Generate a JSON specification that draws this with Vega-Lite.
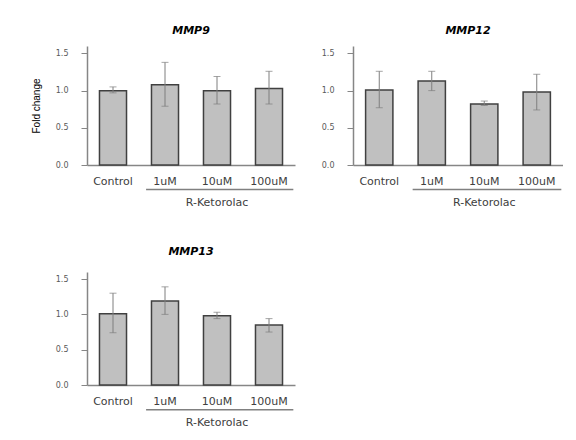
{
  "$schema": "https://vega.github.io/schema/vega-lite/v6.json",
  "padding": {"left": 31, "top": 25, "right": 0, "bottom": 0},
  "datasets": {
    "mmp9": [
      {"group": "Control", "value": 1.00, "lo": 0.97, "hi": 1.05},
      {"group": "1uM", "value": 1.08, "lo": 0.79, "hi": 1.38},
      {"group": "10uM", "value": 1.00, "lo": 0.82, "hi": 1.19},
      {"group": "100uM", "value": 1.03, "lo": 0.82, "hi": 1.26}
    ],
    "mmp12": [
      {"group": "Control", "value": 1.01, "lo": 0.77, "hi": 1.26},
      {"group": "1uM", "value": 1.13, "lo": 1.00, "hi": 1.26},
      {"group": "10uM", "value": 0.82, "lo": 0.80, "hi": 0.86},
      {"group": "100uM", "value": 0.98, "lo": 0.74, "hi": 1.22}
    ],
    "mmp13": [
      {"group": "Control", "value": 1.01, "lo": 0.74, "hi": 1.30},
      {"group": "1uM", "value": 1.19, "lo": 1.00, "hi": 1.39},
      {"group": "10uM", "value": 0.98, "lo": 0.94, "hi": 1.03},
      {"group": "100uM", "value": 0.85, "lo": 0.75, "hi": 0.94}
    ],
    "bracket": [
      {"label": "R-Ketorolac", "from": "1uM", "to": "100uM", "mid": "10uM"}
    ]
  },
  "columns": 2,
  "bounds": "flush",
  "spacing": {"column": 58, "row": 107},
  "concat": [
    {
      "width": 208, "height": 119,
      "title": "MMP9",
      "data": {"name": "mmp9"},
      "layer": [
        {
          "mark": {"type": "bar", "fill": "#c0c0c0", "stroke": "#404040", "strokeWidth": 1.5},
          "encoding": {
            "x": {"field": "group", "type": "nominal", "sort": null, "scale": {"domain": ["Control", "1uM", "10uM", "100uM"], "paddingInner": 0.48, "paddingOuter": 0.24}},
            "y": {"field": "value", "type": "quantitative", "scale": {"domain": [0, 1.5]}, "axis": {"title": "Fold change"}}
          }
        },
        {
          "mark": {"type": "rule", "color": "#7f7f7f", "strokeWidth": 1},
          "encoding": {
            "x": {"field": "group", "type": "nominal"},
            "y": {"field": "lo", "type": "quantitative", "title": "Fold change"},
            "y2": {"field": "hi"}
          }
        },
        {
          "mark": {"type": "tick", "color": "#7f7f7f", "size": 7, "thickness": 1},
          "encoding": {
            "x": {"field": "group", "type": "nominal"},
            "y": {"field": "lo", "type": "quantitative", "title": "Fold change"}
          }
        },
        {
          "mark": {"type": "tick", "color": "#7f7f7f", "size": 7, "thickness": 1},
          "encoding": {
            "x": {"field": "group", "type": "nominal"},
            "y": {"field": "hi", "type": "quantitative", "title": "Fold change"}
          }
        },
        {
          "data": {"name": "bracket"},
          "mark": {"type": "rule", "color": "#808080", "strokeWidth": 1.5},
          "encoding": {
            "x": {"field": "from", "type": "nominal", "bandPosition": -0.2},
            "x2": {"field": "to", "bandPosition": 1.4},
            "y": {"datum": -0.33, "type": "quantitative", "title": "Fold change"}
          }
        },
        {
          "data": {"name": "bracket"},
          "mark": {"type": "text", "fontSize": 11, "color": "#404040", "baseline": "alphabetic"},
          "encoding": {
            "x": {"field": "mid", "type": "nominal"},
            "y": {"datum": -0.55, "type": "quantitative", "title": "Fold change"},
            "text": {"field": "label"}
          }
        }
      ]
    },
    {
      "width": 210, "height": 119,
      "title": {"text": "MMP12", "dx": 10},
      "data": {"name": "mmp12"},
      "layer": [
        {
          "mark": {"type": "bar", "fill": "#c0c0c0", "stroke": "#404040", "strokeWidth": 1.5},
          "encoding": {
            "x": {"field": "group", "type": "nominal", "sort": null, "scale": {"domain": ["Control", "1uM", "10uM", "100uM"], "paddingInner": 0.48, "paddingOuter": 0.24}},
            "y": {"field": "value", "type": "quantitative", "scale": {"domain": [0, 1.5]}, "axis": {"title": null}}
          }
        },
        {
          "mark": {"type": "rule", "color": "#7f7f7f", "strokeWidth": 1},
          "encoding": {
            "x": {"field": "group", "type": "nominal"},
            "y": {"field": "lo", "type": "quantitative", "title": null},
            "y2": {"field": "hi"}
          }
        },
        {
          "mark": {"type": "tick", "color": "#7f7f7f", "size": 7, "thickness": 1},
          "encoding": {
            "x": {"field": "group", "type": "nominal"},
            "y": {"field": "lo", "type": "quantitative", "title": null}
          }
        },
        {
          "mark": {"type": "tick", "color": "#7f7f7f", "size": 7, "thickness": 1},
          "encoding": {
            "x": {"field": "group", "type": "nominal"},
            "y": {"field": "hi", "type": "quantitative", "title": null}
          }
        },
        {
          "data": {"name": "bracket"},
          "mark": {"type": "rule", "color": "#808080", "strokeWidth": 1.5},
          "encoding": {
            "x": {"field": "from", "type": "nominal", "bandPosition": -0.2},
            "x2": {"field": "to", "bandPosition": 1.4},
            "y": {"datum": -0.33, "type": "quantitative", "title": null}
          }
        },
        {
          "data": {"name": "bracket"},
          "mark": {"type": "text", "fontSize": 11, "color": "#404040", "baseline": "alphabetic"},
          "encoding": {
            "x": {"field": "mid", "type": "nominal"},
            "y": {"datum": -0.55, "type": "quantitative", "title": null},
            "text": {"field": "label"}
          }
        }
      ]
    },
    {
      "width": 208, "height": 113,
      "title": {"text": "MMP13", "offset": 15},
      "data": {"name": "mmp13"},
      "layer": [
        {
          "mark": {"type": "bar", "fill": "#c0c0c0", "stroke": "#404040", "strokeWidth": 1.5},
          "encoding": {
            "x": {"field": "group", "type": "nominal", "sort": null, "scale": {"domain": ["Control", "1uM", "10uM", "100uM"], "paddingInner": 0.48, "paddingOuter": 0.24}},
            "y": {"field": "value", "type": "quantitative", "scale": {"domain": [0, 1.5]}, "axis": {"title": null}}
          }
        },
        {
          "mark": {"type": "rule", "color": "#7f7f7f", "strokeWidth": 1},
          "encoding": {
            "x": {"field": "group", "type": "nominal"},
            "y": {"field": "lo", "type": "quantitative", "title": null},
            "y2": {"field": "hi"}
          }
        },
        {
          "mark": {"type": "tick", "color": "#7f7f7f", "size": 7, "thickness": 1},
          "encoding": {
            "x": {"field": "group", "type": "nominal"},
            "y": {"field": "lo", "type": "quantitative", "title": null}
          }
        },
        {
          "mark": {"type": "tick", "color": "#7f7f7f", "size": 7, "thickness": 1},
          "encoding": {
            "x": {"field": "group", "type": "nominal"},
            "y": {"field": "hi", "type": "quantitative", "title": null}
          }
        },
        {
          "data": {"name": "bracket"},
          "mark": {"type": "rule", "color": "#808080", "strokeWidth": 1.5},
          "encoding": {
            "x": {"field": "from", "type": "nominal", "bandPosition": -0.2},
            "x2": {"field": "to", "bandPosition": 1.4},
            "y": {"datum": -0.35, "type": "quantitative", "title": null}
          }
        },
        {
          "data": {"name": "bracket"},
          "mark": {"type": "text", "fontSize": 11, "color": "#404040", "baseline": "alphabetic"},
          "encoding": {
            "x": {"field": "mid", "type": "nominal"},
            "y": {"datum": -0.58, "type": "quantitative", "title": null},
            "text": {"field": "label"}
          }
        }
      ]
    }
  ],
  "config": {
    "view": {"stroke": null},
    "font": "DejaVu Sans",
    "axis": {"grid": false, "domainColor": "#868686", "tickColor": "#868686", "labelColor": "#595959", "labelFont": "DejaVu Sans"},
    "axisX": {"ticks": false, "labelAngle": 0, "labelFontSize": 11, "labelPadding": 10, "title": null, "domainWidth": 1.5, "labelColor": "#404040"},
    "axisY": {"values": [0, 0.5, 1, 1.5], "format": ".1f", "labelFontSize": 8, "tickSize": 6, "labelPadding": 13, "domainWidth": 1.5,
      "titleFont": "Liberation Sans", "titleFontSize": 10, "titleFontWeight": "normal", "titleColor": "#000000", "titlePadding": 14},
    "title": {"fontSize": 11, "fontWeight": "bold", "fontStyle": "italic", "color": "#000000", "offset": 10, "font": "DejaVu Sans"}
  }
}
